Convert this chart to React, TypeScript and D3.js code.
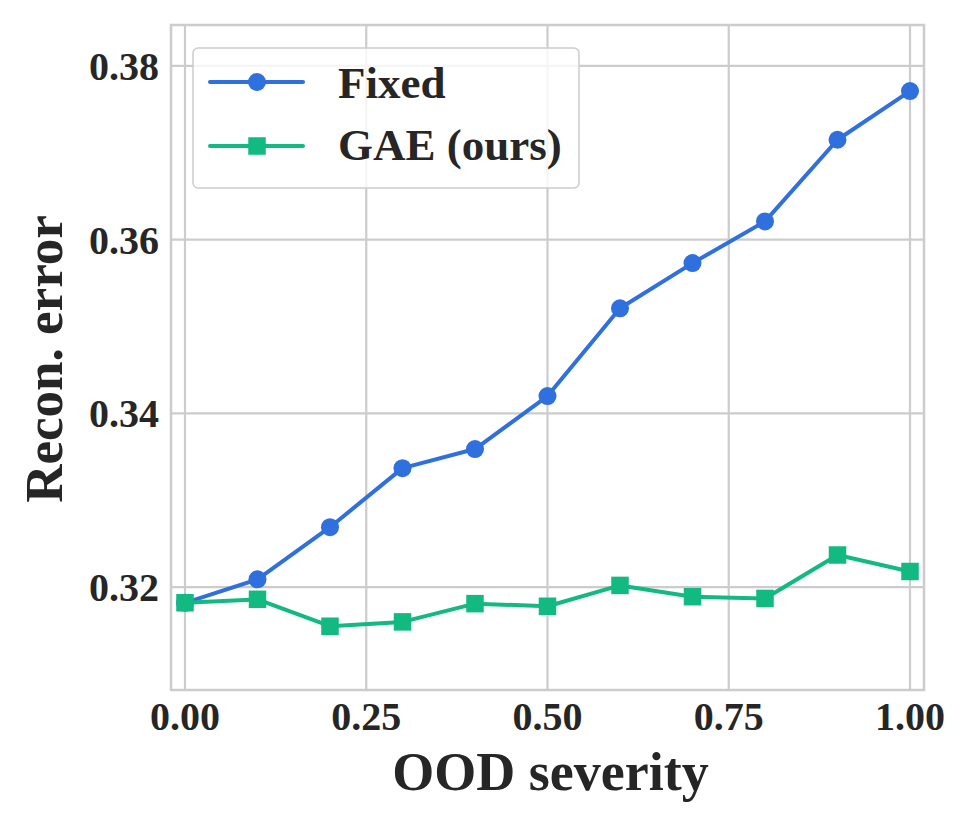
import React from "react";
import * as d3 from "d3";

const severity = [0, 0.1, 0.2, 0.3, 0.4, 0.5, 0.6, 0.7, 0.8, 0.9, 1.0];
const fixedErr = [0.3182, 0.3209, 0.3269, 0.3337, 0.3359, 0.342, 0.3521, 0.3573, 0.3621, 0.3715, 0.3771];
const gaeErr = [0.3182, 0.3186, 0.3155, 0.316, 0.3181, 0.3178, 0.3202, 0.3189, 0.3187, 0.3237, 0.3218];
const xTicks = [0, 0.25, 0.5, 0.75, 1.0];
const yTicks = [0.32, 0.34, 0.36, 0.38];
const seriesNames = ["Fixed", "GAE (ours)"];

const W = 973, H = 827;
const L = 171, R = 924, T = 25, B = 690;
const BLUE = "#2f6fde";
const GREEN = "#12b981";
const TXT = "#262626";
const GRID = "#cccccc";
const FONT = "'Liberation Serif', 'Times New Roman', serif";

export default function App() {
  const x = d3.scaleLinear().domain([-0.0193, 1.0193]).range([L, R]);
  const y = d3.scaleLinear().domain([0.30816, 0.38471]).range([B, T]);
  const line = d3.line<number>().x((_, i) => x(severity[i])).y((d) => y(d));
  const sq = 17.5;
  return (
    <svg width={W} height={H} style={{ position: "absolute", left: 0, top: 0, background: "#fff" }} fontFamily={FONT}>
      <rect x={0} y={0} width={W} height={H} fill="#fff" />
      {xTicks.map((t) => (
        <line key={"gx" + t} x1={x(t)} x2={x(t)} y1={T} y2={B} stroke={GRID} strokeWidth={2.2} />
      ))}
      {yTicks.map((t) => (
        <line key={"gy" + t} x1={L} x2={R} y1={y(t)} y2={y(t)} stroke={GRID} strokeWidth={2.2} />
      ))}
      <rect x={L} y={T} width={R - L} height={B - T} fill="none" stroke={GRID} strokeWidth={2.5} />
      <path d={line(fixedErr) || ""} fill="none" stroke={BLUE} strokeWidth={4} strokeLinejoin="round" />
      {fixedErr.map((v, i) => (
        <circle key={"f" + i} cx={x(severity[i])} cy={y(v)} r={9} fill={BLUE} />
      ))}
      <path d={line(gaeErr) || ""} fill="none" stroke={GREEN} strokeWidth={4} strokeLinejoin="round" />
      {gaeErr.map((v, i) => (
        <rect key={"g" + i} x={x(severity[i]) - sq / 2} y={y(v) - sq / 2} width={sq} height={sq} fill={GREEN} />
      ))}
      {xTicks.map((t) => (
        <text key={"tx" + t} x={x(t)} y={730} textAnchor="middle" fontSize={40} fontWeight="bold" fill={TXT}>
          {t.toFixed(2)}
        </text>
      ))}
      {yTicks.map((t) => (
        <text key={"ty" + t} x={159} y={y(t)} dy="0.35em" textAnchor="end" fontSize={40} fontWeight="bold" fill={TXT}>
          {t.toFixed(2)}
        </text>
      ))}
      <text x={(L + R) / 2 + 3} y={790} textAnchor="middle" fontSize={54} fontWeight="bold" fill={TXT}>
        OOD severity
      </text>
      <text transform={`translate(62, ${(212 + 506) / 2}) rotate(-90)`} textAnchor="middle" fontSize={53} fontWeight="bold" fill={TXT}>
        Recon. error
      </text>
      <rect x={193} y={48} width={386} height={140} rx={5} fill="#fff" fillOpacity={0.8} stroke={GRID} strokeWidth={1.5} />
      <line x1={210} x2={303} y1={82} y2={82} stroke={BLUE} strokeWidth={4} strokeLinecap="round" />
      <circle cx={257} cy={82} r={9} fill={BLUE} />
      <text x={338} y={98} fontSize={45} fontWeight="bold" fill={TXT}>{seriesNames[0]}</text>
      <line x1={210} x2={303} y1={146} y2={146} stroke={GREEN} strokeWidth={4} strokeLinecap="round" />
      <rect x={257 - sq / 2} y={146 - sq / 2} width={sq} height={sq} fill={GREEN} />
      <text x={338} y={160} fontSize={45} fontWeight="bold" fill={TXT}>{seriesNames[1]}</text>
    </svg>
  );
}
